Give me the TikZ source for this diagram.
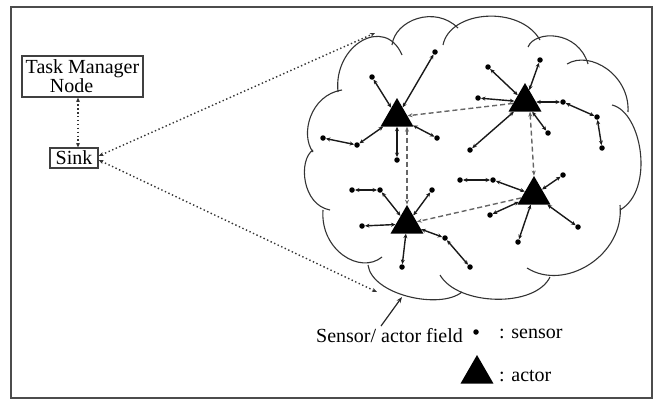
\documentclass[tikz,border=0pt]{standalone}
\usepackage{fontspec}
\setmainfont{Liberation Serif}
\usetikzlibrary{shapes.geometric,arrows.meta}
\tikzset{stk/.tip={Stealth[length=5pt,width=4pt]}, smk/.tip={Stealth[length=4.5pt,width=4pt]}}
\begin{document}
\begin{tikzpicture}[x=1pt,y=-1pt,
 txt/.style={font=\fontsize{20}{15}\selectfont, inner sep=0pt},
 box/.style={draw=black!75, line width=1.3pt},
 sensor/.style={circle, fill=black, inner sep=0pt, minimum size=5.5pt},
 actor/.style={regular polygon, regular polygon sides=3, fill=black, inner sep=0pt, minimum size=38pt},
 link/.style={draw=black!90, line width=1.4pt, {smk}-{smk}},
 aalink/.style={draw=black!60, line width=1.4pt, dash pattern=on 5pt off 3pt},
 dotlink/.style={draw=black!80, line width=1.4pt, dash pattern=on 1.4pt off 2.5pt},
 cloudline/.style={draw=black!80, line width=1.1pt},
]
\useasboundingbox (0,0) rectangle (655,399);
\draw[draw=black!70, line width=1.5pt] (11,7) rectangle (652,398);

% Task manager and sink
\node[txt, box, inner sep=0pt, minimum width=121pt, minimum height=41pt, align=center] (tm) at (82.5,76.5) {Task Manager\\Node\hspace*{22pt}};
\node[txt, box, inner sep=0pt, minimum width=48pt, minimum height=20pt] (sink) at (74,158) {Sink};
\draw[dotlink, {smk}-{smk}] ([xshift=-4.5pt]tm.south) -- ([xshift=4pt]sink.north);

\coordinate (ct) at (375,33);
\coordinate (cb) at (377,292);
\draw[dotlink, {stk}-{stk}] ([yshift=2pt]sink.east) -- (ct);
\draw[dotlink, {stk}-{stk}] ([yshift=-2pt]sink.east) -- (cb);

% cloud
\draw[cloudline] (313,150) .. controls (298,160) and (302,205) .. (330,210);
\draw[cloudline] (313,152) .. controls (300,135) and (310,95) .. (342,90);
\draw[cloudline] (338,92) .. controls (333,45) and (385,15) .. (402,55);
\draw[cloudline] (392,45) .. controls (395,20) and (435,5) .. (458,28);
\draw[cloudline] (443,45) .. controls (450,10) and (520,5) .. (540,40);
\draw[cloudline] (528,47) .. controls (535,30) and (578,30) .. (588,64);
\draw[cloudline] (567,64) .. controls (590,50) and (630,75) .. (628,112);
\draw[cloudline] (612,105) .. controls (642,112) and (655,190) .. (620,210);
\draw[cloudline] (620,205) .. controls (625,255) and (565,292) .. (527,268);
\draw[cloudline] (550,277) .. controls (535,308) and (458,306) .. (440,275);
\draw[cloudline] (368,265) .. controls (372,295) and (440,310) .. (462,292);
\draw[cloudline] (323,210) .. controls (320,250) and (360,275) .. (382,257);

% actors
\node[actor] (a1) at (397,117) {};
\node[actor] (a2) at (525,102) {};
\node[actor] (a3) at (407,224) {};
\node[actor] (a4) at (534,195) {};

% actor-actor links
\draw[aalink, -{stk}] (a2) -- (a1);
\draw[aalink, -{stk}] (a4) -- (a3);
\draw[aalink, {stk}-{stk}] (a1.south -| a3.north) -- (a3.north);
\draw[aalink, {stk}-{stk}] ([xshift=5pt]a2.south) -- (a4.north);

% sensors of a1
\node[sensor] (s11) at (372,77) {};
\node[sensor] (s12) at (435,52) {};
\node[sensor] (s14) at (323,138) {};
\node[sensor] (s15) at (357,145) {};
\node[sensor] (s16) at (437,138) {};
\node[sensor] (s17) at (397,160) {};
\draw[link] (s11) -- (a1);
\draw[link] (s12) -- (a1);
\draw[link] (s14) -- (s15);
\draw[link] (s15) -- (a1);
\draw[link] (s16) -- (a1);
\draw[link] (s17) -- (a1);

% sensors of a2
\node[sensor] (s21) at (488,67) {};
\node[sensor] (s22) at (540,60) {};
\node[sensor] (s23) at (478,98) {};
\node[sensor] (s24) at (470,150) {};
\node[sensor] (s25) at (548,133) {};
\node[sensor] (s26) at (563,102) {};
\node[sensor] (s27) at (597,117) {};
\node[sensor] (s28) at (602,148) {};
\draw[link] (s21) -- (a2);
\draw[link] (s22) -- (a2);
\draw[link] (s23) -- (a2);
\draw[link] (s24) -- (a2);
\draw[link] (s25) -- (a2);
\draw[link] (s28) -- (s27);
\draw[link] (s27) -- (s26);
\draw[link] (s26) -- (a2);

% sensors of a3
\node[sensor] (s31) at (352,190) {};
\node[sensor] (s32) at (380,190) {};
\node[sensor] (s33) at (432,190) {};
\node[sensor] (s34) at (362,226) {};
\node[sensor] (s35) at (402,267) {};
\node[sensor] (s36) at (470,267) {};
\node[sensor] (s37) at (445,238) {};
\draw[link] (s31) -- (s32);
\draw[link] (s32) -- (a3);
\draw[link] (s33) -- (a3);
\draw[link] (s34) -- (a3);
\draw[link] (s35) -- (a3);
\draw[link] (s36) -- (s37);
\draw[link] (s37) -- (a3);

% sensors of a4
\node[sensor] (s41) at (460,180) {};
\node[sensor] (s42) at (493,180) {};
\node[sensor] (s43) at (563,175) {};
\node[sensor] (s44) at (490,215) {};
\node[sensor] (s45) at (578,227) {};
\node[sensor] (s46) at (518,242) {};
\draw[link] (s41) -- (s42);
\draw[link] (s42) -- (a4);
\draw[link] (s43) -- (a4);
\draw[link] (s44) -- (a4);
\draw[link] (s45) -- (a4);
\draw[link] (s46) -- (a4);

% legend
\node[txt, anchor=base west] (field) at (316,342) {Sensor/ actor field};
\coordinate (fa) at (381,326);
\coordinate (fb) at (402,297);
\draw[line width=1.2pt, black!85, -{Stealth[length=6pt,width=4.5pt]}] (fa) -- (fb);
\node[sensor] (ls) at (476,332) {};
\node[txt, anchor=base west] (lst) at (499,338) {: sensor};
\node[actor] (la) at (477,374) {};
\node[txt, anchor=base west] (lat) at (499,381) {: actor};
\end{tikzpicture}
\end{document}
